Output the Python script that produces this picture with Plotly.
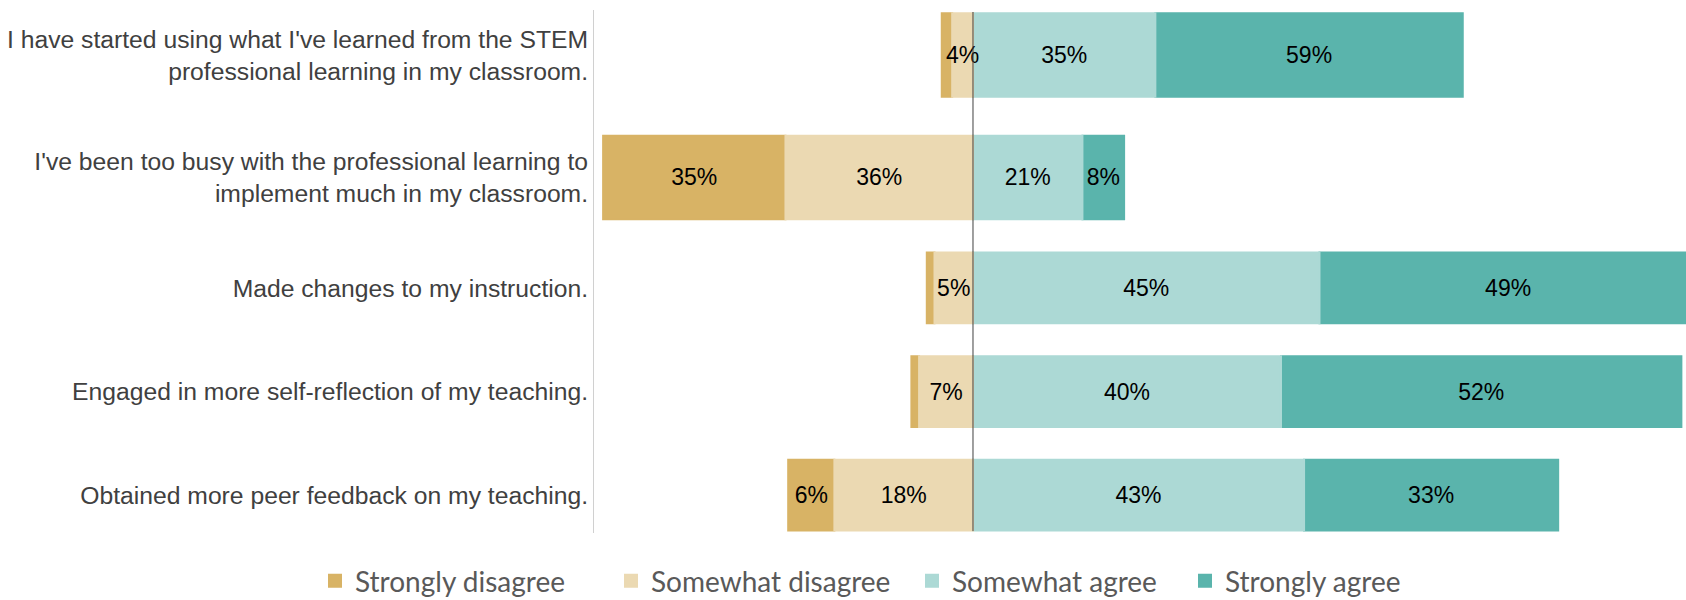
import plotly.graph_objects as go

# Survey statements (two separate question blocks)
questions_top = [
    "I have started using what I've learned from the STEM<br>professional learning in my classroom.",
    "I've been too busy with the professional learning to<br>implement much in my classroom.",
]
questions_bottom = [
    "Made changes to my instruction.",
    "Engaged in more self-reflection of my teaching.",
    "Obtained more peer feedback on my teaching.",
]

# Percent of respondents per response category
strongly_disagree_top = [2, 35]
somewhat_disagree_top = [4, 36]
somewhat_agree_top = [35, 21]
strongly_agree_top = [59, 8]

strongly_disagree_bottom = [1, 1, 6]
somewhat_disagree_bottom = [5, 7, 18]
somewhat_agree_bottom = [45, 40, 43]
strongly_agree_bottom = [49, 52, 33]

categories = ["Strongly disagree", "Somewhat disagree", "Somewhat agree", "Strongly agree"]
colors = {
    "Strongly disagree": "#d8b365",
    "Somewhat disagree": "#ebd9b2",
    "Somewhat agree": "#acd9d5",
    "Strongly agree": "#5ab4ac",
}
# one legend box per response category, laid out along the bottom
legend_ids = {c: ("legend" if i == 0 else f"legend{i + 1}") for i, c in enumerate(categories)}
legend_left_px = [315, 611, 912, 1185]


def labels(values):
    # tiny slivers are left unlabeled
    return [f"{v}%" if v >= 3 else "" for v in values]


def diverging_segments(sd, swd, swa, sa):
    """(name, signed length, base) for each segment, in drawing order.

    "Somewhat" sits next to zero and "Strongly" outside it. Somewhat disagree
    is drawn last so its narrow labels overlap neighbouring bars unhidden.
    """
    return [
        ("Strongly agree", sa, swa),
        ("Somewhat agree", swa, [0] * len(swa)),
        ("Strongly disagree", [-v for v in sd], [-v for v in swd]),
        ("Somewhat disagree", [-v for v in swd], [0] * len(swd)),
    ]


fig = go.Figure()

blocks = [
    ("x", "y", questions_top,
     diverging_segments(strongly_disagree_top, somewhat_disagree_top,
                        somewhat_agree_top, strongly_agree_top), True),
    ("x2", "y2", questions_bottom,
     diverging_segments(strongly_disagree_bottom, somewhat_disagree_bottom,
                        somewhat_agree_bottom, strongly_agree_bottom), False),
]

for xa, ya, qs, segments, show in blocks:
    for name, lengths, base in segments:
        fig.add_trace(go.Bar(
            y=qs,
            x=lengths,
            base=base,
            orientation="h",
            name=name,
            legend=legend_ids[name],
            legendgroup=name,
            showlegend=show,
            marker=dict(color=colors[name], line=dict(width=2, color=colors[name])),
            text=labels([abs(v) for v in lengths]),
            textposition="inside",
            insidetextanchor="middle",
            textangle=0,
            textfont=dict(family="Liberation Sans, Arial, sans-serif", size=23, color="#000000"),
            xaxis=xa,
            yaxis=ya,
            hoverinfo="skip",
        ))

W, H = 1686, 600
x_dom = [594 / W, 1.0]

axis_common = dict(showgrid=False, zeroline=False, showticklabels=False, ticks="")
ylab_font = dict(family="Liberation Sans, Arial, sans-serif", size=24.7, color="#404040")

legend_style = dict(
    orientation="h",
    yanchor="middle",
    y=1 - 581 / H,
    xanchor="left",
    font=dict(family="Lato, sans-serif", size=28, color="#595959"),
    bgcolor="rgba(0,0,0,0)",
)
legends = {
    lid: dict(x=px / W, **legend_style)
    for lid, px in zip(legend_ids.values(), legend_left_px)
}

fig.update_layout(
    width=W,
    height=H,
    margin=dict(l=0, r=0, t=0, b=0, autoexpand=False),
    paper_bgcolor="white",
    plot_bgcolor="rgba(0,0,0,0)",
    barmode="overlay",
    bargap=0.318,
    uniformtext=dict(minsize=23, mode="show"),
    xaxis=dict(domain=x_dom, anchor="y", range=[-72.75, 136.85], **axis_common),
    yaxis=dict(
        domain=[1 - 238 / H, 1 - 10 / H], anchor="x",
        range=[1.495, -0.3676], showgrid=False, zeroline=False, ticks="",
        showline=True, linecolor="#d0d0d0", linewidth=1,
        tickfont=ylab_font, ticklabelstandoff=0,
    ),
    xaxis2=dict(domain=x_dom, anchor="y2", range=[-49.22, 92.6], **axis_common),
    yaxis2=dict(
        domain=[1 - 533 / H, 1 - 185 / H], anchor="x2",
        range=[2.3647, -0.9928], showgrid=False, zeroline=False, ticks="",
        showline=True, linecolor="#d0d0d0", linewidth=1,
        tickfont=ylab_font, ticklabelstandoff=0,
    ),
    showlegend=True,
    **legends,
)

# Zero reference line across both blocks
fig.add_shape(
    type="line", xref="x2", yref="paper",
    x0=0, x1=0, y0=1 - 531 / H, y1=1 - 12 / H,
    line=dict(color="#404040", width=1),
)

fig.write_html("out.html")
